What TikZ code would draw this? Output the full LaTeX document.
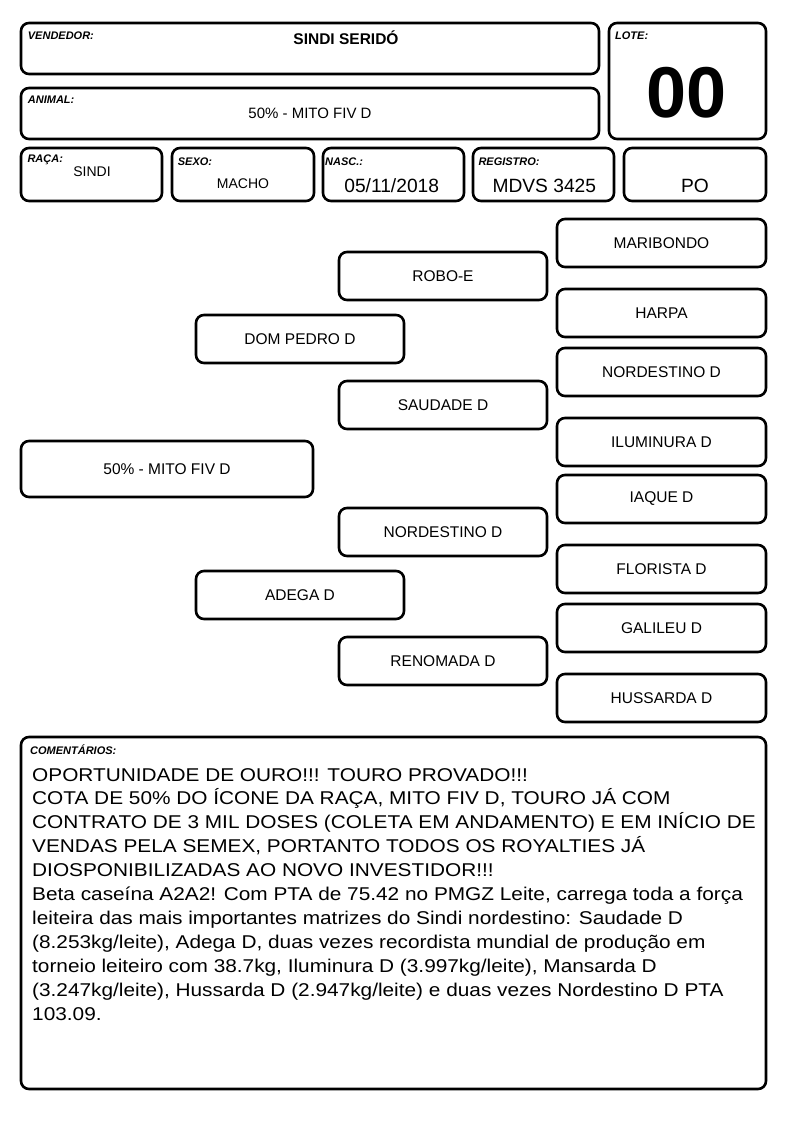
\documentclass[tikz,border=0pt]{standalone}
\usepackage{fontspec}
\setmainfont{Liberation Sans}
\newfontfamily\cmtfont[FakeStretch=1.125]{Liberation Sans}
\begin{document}
\begin{tikzpicture}[x=1pt,y=-1pt,
  bx/.style={draw, line width=2.6pt, rounded corners=8pt, inner sep=0pt},
  lab/.style={anchor=west, inner sep=0pt, font=\fontsize{11}{13}\selectfont\bfseries\itshape},
  val/.style={inner sep=0pt, font=\fontsize{15}{18}\selectfont},
  big/.style={inner sep=0pt, font=\fontsize{19.2}{22}\selectfont},
  nm/.style={bx, font=\fontsize{15.5}{18}\selectfont},
  g1/.style={nm, minimum width=292, minimum height=56},
  g2/.style={nm, minimum width=208, minimum height=48},
  g3/.style={nm, minimum width=208, minimum height=48},
  g4/.style={nm, minimum width=209, minimum height=48},
  cmtline/.style={anchor=base west, inner sep=0pt, font=\cmtfont\fontsize{18.5}{22}\selectfont},
]
\useasboundingbox (0,0) rectangle (794,1123);
% header boxes
\node[bx, minimum width=578, minimum height=51] (vend) at (310,48.5) {};
\node[bx, minimum width=578, minimum height=51] (anim) at (310,113.5) {};
\node[bx, minimum width=157, minimum height=116] (lote) at (687.5,81) {};
\node[bx, minimum width=141, minimum height=53] (raca) at (91.5,174.5) {};
\node[bx, minimum width=142, minimum height=53] (sexo) at (243,174.5) {};
\node[bx, minimum width=141, minimum height=53] (nasc) at (393.5,174.5) {};
\node[bx, minimum width=141, minimum height=53] (regi) at (543.5,174.5) {};
\node[bx, minimum width=142, minimum height=53] (po) at (695,174.5) {};

\node[lab] (lvend) at (27.7,35.7) {VENDEDOR:};
\node[lab] (lanim) at (27.7,100) {ANIMAL:};
\node[lab] (llote) at (615,35.7) {LOTE:};
\node[lab] (lraca) at (27.3,160) {RAÇA:};
\node[lab] (lsexo) at (177.7,161.7) {SEXO:};
\node[lab] (lnasc) at (325,161.7) {NASC.:};
\node[lab] (lregi) at (478.3,161.7) {REGISTRO:};

\node[inner sep=0pt, font=\fontsize{15.5}{18}\selectfont\bfseries] (tvend) at (346,38) {SINDI SERIDÓ};
\node[val] (tanim) at (310,113) {50\% - MITO FIV D};
\node[inner sep=0pt, font=\fontsize{72}{80}\selectfont\bfseries] (tlote) at (687,93) {00};
\node[inner sep=0pt, font=\fontsize{14}{16}\selectfont] (traca) at (92,172) {SINDI};
\node[inner sep=0pt, font=\fontsize{14}{16}\selectfont] (tsexo) at (243,184) {MACHO};
\node[big] (tnasc) at (391.7,185.5) {05/11/2018};
\node[big] (tregi) at (544.3,185.5) {MDVS 3425};
\node[big] (tpo) at (695,185.5) {PO};

% pedigree
\node[g1] (mito) at (167,469) {50\% - MITO FIV D};
\node[g2] (dom) at (300,339) {DOM PEDRO D};
\node[g2] (adega) at (300,595) {ADEGA D};
\node[g3] (robo) at (443,276) {ROBO-E};
\node[g3] (saud) at (443,405) {SAUDADE D};
\node[g3] (nord) at (443,532) {NORDESTINO D};
\node[g3] (reno) at (443,661) {RENOMADA D};
\node[g4] (mari) at (661.5,243) {MARIBONDO};
\node[g4] (harp) at (661.5,313) {HARPA};
\node[g4] (nord2) at (661.5,372) {NORDESTINO D};
\node[g4] (ilum) at (661.5,442) {ILUMINURA D};
\node[g4] (iaqu) at (661.5,499) {IAQUE D};
\node[g4] (flor) at (661.5,569) {FLORISTA D};
\node[g4] (gali) at (661.5,628) {GALILEU D};
\node[g4] (huss) at (661.5,698) {HUSSARDA D};

% comments
\node[bx, minimum width=745, minimum height=352] (com) at (393.5,913) {};
\node[lab] (lcom) at (30,749.3) {COMENTÁRIOS:};
\node[cmtline] (c1) at (32,781) {OPORTUNIDADE DE OURO!!! TOURO PROVADO!!!};
\node[cmtline] (c2) at (32,804.9) {COTA DE 50\% DO ÍCONE DA RAÇA, MITO FIV D, TOURO JÁ COM};
\node[cmtline] (c3) at (32,828.8) {CONTRATO DE 3 MIL DOSES (COLETA EM ANDAMENTO) E EM INÍCIO DE};
\node[cmtline] (c4) at (32,852.7) {VENDAS PELA SEMEX, PORTANTO TODOS OS ROYALTIES JÁ};
\node[cmtline] (c5) at (32,876.6) {DIOSPONIBILIZADAS AO NOVO INVESTIDOR!!!};
\node[cmtline] (c6) at (32,900.5) {Beta caseína A2A2! Com PTA de 75.42 no PMGZ Leite, carrega toda a força};
\node[cmtline] (c7) at (32,924.4) {leiteira das mais importantes matrizes do Sindi nordestino: Saudade D};
\node[cmtline] (c8) at (32,948.3) {(8.253kg/leite), Adega D, duas vezes recordista mundial de produção em};
\node[cmtline] (c9) at (32,972.2) {torneio leiteiro com 38.7kg, Iluminura D (3.997kg/leite), Mansarda D};
\node[cmtline] (c10) at (32,996.1) {(3.247kg/leite), Hussarda D (2.947kg/leite) e duas vezes Nordestino D PTA};
\node[cmtline] (c11) at (32,1020) {103.09.};
\end{tikzpicture}
\end{document}
